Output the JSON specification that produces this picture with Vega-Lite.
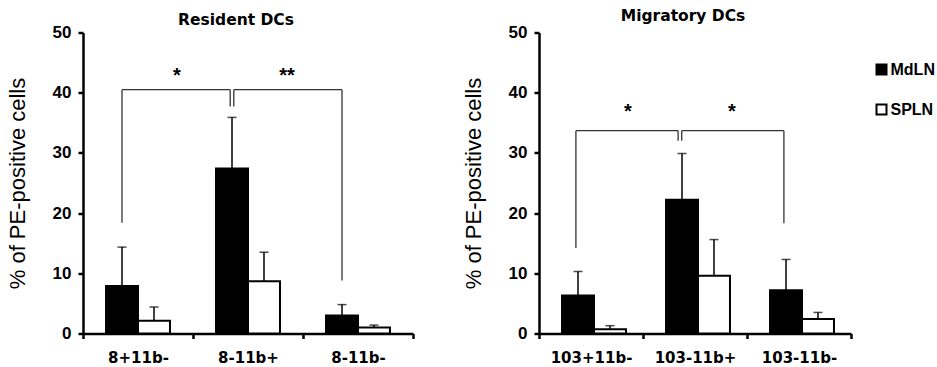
{
  "$schema": "https://vega.github.io/schema/vega-lite/v6.json",
  "background": "white",
  "padding": {"left": 6, "top": 8.5, "right": 0, "bottom": 0},
  "spacing": 47,
  "resolve": {"scale": {"fill": "independent"}, "legend": {"fill": "independent"}},
  "datasets": {
    "res": [
      {"cell": "8+11b-", "series": "MdLN", "mean": 7.9, "upper": 14.35},
      {"cell": "8+11b-", "series": "SPLN", "mean": 2.1, "upper": 4.4},
      {"cell": "8-11b+", "series": "MdLN", "mean": 27.4, "upper": 35.9},
      {"cell": "8-11b+", "series": "SPLN", "mean": 8.7, "upper": 13.5},
      {"cell": "8-11b-", "series": "MdLN", "mean": 3.0, "upper": 4.8},
      {"cell": "8-11b-", "series": "SPLN", "mean": 1.0, "upper": 1.4}
    ],
    "mig": [
      {"cell": "103+11b-", "series": "MdLN", "mean": 6.3, "upper": 10.3},
      {"cell": "103+11b-", "series": "SPLN", "mean": 0.7, "upper": 1.3},
      {"cell": "103-11b+", "series": "MdLN", "mean": 22.2, "upper": 29.9},
      {"cell": "103-11b+", "series": "SPLN", "mean": 9.6, "upper": 15.6},
      {"cell": "103-11b-", "series": "MdLN", "mean": 7.2, "upper": 12.3},
      {"cell": "103-11b-", "series": "SPLN", "mean": 2.4, "upper": 3.5}
    ],
    "resSig": [
      {"part": "leg", "cell": "8+11b-", "low": 18.4, "high": 40.5},
      {"part": "leg", "cell": "8-11b-", "low": 8.8, "high": 40.5},
      {"part": "midL", "cell": "8-11b+", "low": 37.7, "high": 40.5},
      {"part": "midR", "cell": "8-11b+", "low": 37.7, "high": 40.5},
      {"part": "spanL", "cell": "8+11b-", "cell2": "8-11b+", "high": 40.5},
      {"part": "spanR", "cell": "8-11b+", "cell2": "8-11b-", "high": 40.5},
      {"part": "star", "cell": "8+11b-", "label": "*", "high": 43.5},
      {"part": "star", "cell": "8-11b+", "label": "**", "high": 43.5}
    ],
    "migSig": [
      {"part": "leg", "cell": "103+11b-", "low": 14.2, "high": 33.7},
      {"part": "leg", "cell": "103-11b-", "low": 18.3, "high": 33.7},
      {"part": "midL", "cell": "103-11b+", "low": 32.0, "high": 33.7},
      {"part": "midR", "cell": "103-11b+", "low": 32.0, "high": 33.7},
      {"part": "spanL", "cell": "103+11b-", "cell2": "103-11b+", "high": 33.7},
      {"part": "spanR", "cell": "103-11b+", "cell2": "103-11b-", "high": 33.7},
      {"part": "star", "cell": "103+11b-", "label": "*", "high": 37.4},
      {"part": "star", "cell": "103-11b+", "label": "*", "high": 37.4}
    ]
  },
  "hconcat": [
    {
      "width": 330,
      "height": 301,
      "title": {"text": "Resident DCs", "offset": -4.5},
      "layer": [
        {
          "data": {"name": "res"},
          "mark": {"type": "bar", "stroke": "black", "strokeWidth": 2},
          "encoding": {
            "x": {"field": "cell", "type": "nominal", "title": null, "scale": {"domain": ["8+11b-", "8-11b+", "8-11b-"], "paddingInner": 0, "paddingOuter": 0}},
            "xOffset": {"field": "series", "type": "nominal", "scale": {"domain": ["MdLN", "SPLN"], "paddingInner": 0, "paddingOuter": 0.72}},
            "y": {"field": "mean", "type": "quantitative", "title": "% of PE-positive cells", "scale": {"domain": [0, 50]}, "axis": {"values": [0, 10, 20, 30, 40, 50]}},
            "fill": {"field": "series", "type": "nominal", "scale": {"domain": ["MdLN", "SPLN"], "range": ["black", "white"]}, "legend": null}
          }
        },
        {
          "data": {"name": "res"},
          "mark": {"type": "rule", "color": "black", "strokeWidth": 1.5},
          "encoding": {
            "x": {"field": "cell", "type": "nominal", "title": null},
            "xOffset": {"field": "series", "type": "nominal"},
            "y": {"field": "mean", "type": "quantitative", "title": "% of PE-positive cells"},
            "y2": {"field": "upper"}
          }
        },
        {
          "data": {"name": "res"},
          "mark": {"type": "tick", "color": "black", "size": 9, "thickness": 1.5, "orient": "horizontal"},
          "encoding": {
            "x": {"field": "cell", "type": "nominal", "title": null},
            "xOffset": {"field": "series", "type": "nominal"},
            "y": {"field": "upper", "type": "quantitative", "title": "% of PE-positive cells"}
          }
        },
        {
          "data": {"name": "resSig"},
          "transform": [{"filter": "datum.part === 'leg'"}],
          "mark": {"type": "rule", "color": "#333", "strokeWidth": 1.3, "xOffset": -16},
          "encoding": {
            "x": {"field": "cell", "type": "nominal", "title": null},
            "y": {"field": "low", "type": "quantitative", "title": "% of PE-positive cells"},
            "y2": {"field": "high"}
          }
        },
        {
          "data": {"name": "resSig"},
          "transform": [{"filter": "datum.part === 'midL'"}],
          "mark": {"type": "rule", "color": "#333", "strokeWidth": 1.3, "xOffset": -17.8},
          "encoding": {
            "x": {"field": "cell", "type": "nominal", "title": null},
            "y": {"field": "low", "type": "quantitative", "title": "% of PE-positive cells"},
            "y2": {"field": "high"}
          }
        },
        {
          "data": {"name": "resSig"},
          "transform": [{"filter": "datum.part === 'midR'"}],
          "mark": {"type": "rule", "color": "#333", "strokeWidth": 1.3, "xOffset": -14.2},
          "encoding": {
            "x": {"field": "cell", "type": "nominal", "title": null},
            "y": {"field": "low", "type": "quantitative", "title": "% of PE-positive cells"},
            "y2": {"field": "high"}
          }
        },
        {
          "data": {"name": "resSig"},
          "transform": [{"filter": "datum.part === 'spanL'"}],
          "mark": {"type": "rule", "color": "#333", "strokeWidth": 1.3, "xOffset": -16, "x2Offset": -17.8},
          "encoding": {
            "x": {"field": "cell", "type": "nominal", "title": null},
            "x2": {"field": "cell2"},
            "y": {"field": "high", "type": "quantitative", "title": "% of PE-positive cells"}
          }
        },
        {
          "data": {"name": "resSig"},
          "transform": [{"filter": "datum.part === 'spanR'"}],
          "mark": {"type": "rule", "color": "#333", "strokeWidth": 1.3, "xOffset": -14.2, "x2Offset": -16},
          "encoding": {
            "x": {"field": "cell", "type": "nominal", "title": null},
            "x2": {"field": "cell2"},
            "y": {"field": "high", "type": "quantitative", "title": "% of PE-positive cells"}
          }
        },
        {
          "data": {"name": "resSig"},
          "transform": [{"filter": "datum.part === 'star'"}],
          "mark": {"type": "text", "font": "Liberation Sans", "fontSize": 20, "fontWeight": "bold", "color": "black", "baseline": "middle", "align": "center", "xOffset": 39, "dy": 4},
          "encoding": {
            "x": {"field": "cell", "type": "nominal", "title": null},
            "y": {"field": "high", "type": "quantitative", "title": "% of PE-positive cells"},
            "text": {"field": "label"}
          }
        }
      ]
    },
    {
      "width": 312,
      "height": 301,
      "title": {"text": "Migratory DCs", "offset": -1},
      "layer": [
        {
          "data": {"name": "mig"},
          "mark": {"type": "bar", "stroke": "black", "strokeWidth": 2},
          "encoding": {
            "x": {"field": "cell", "type": "nominal", "title": null, "scale": {"domain": ["103+11b-", "103-11b+", "103-11b-"], "paddingInner": 0, "paddingOuter": 0}},
            "xOffset": {"field": "series", "type": "nominal", "scale": {"domain": ["MdLN", "SPLN"], "paddingInner": 0, "paddingOuter": 0.72}},
            "y": {"field": "mean", "type": "quantitative", "title": "% of PE-positive cells", "scale": {"domain": [0, 50]}, "axis": {"values": [0, 10, 20, 30, 40, 50]}},
            "fill": {"field": "series", "type": "nominal", "scale": {"domain": ["MdLN", "SPLN"], "range": ["black", "white"]}, "legend": {"orient": "none", "legendX": 334.5, "legendY": 29, "title": null}}
          }
        },
        {
          "data": {"name": "mig"},
          "mark": {"type": "rule", "color": "black", "strokeWidth": 1.5},
          "encoding": {
            "x": {"field": "cell", "type": "nominal", "title": null},
            "xOffset": {"field": "series", "type": "nominal"},
            "y": {"field": "mean", "type": "quantitative", "title": "% of PE-positive cells"},
            "y2": {"field": "upper"}
          }
        },
        {
          "data": {"name": "mig"},
          "mark": {"type": "tick", "color": "black", "size": 9, "thickness": 1.5, "orient": "horizontal"},
          "encoding": {
            "x": {"field": "cell", "type": "nominal", "title": null},
            "xOffset": {"field": "series", "type": "nominal"},
            "y": {"field": "upper", "type": "quantitative", "title": "% of PE-positive cells"}
          }
        },
        {
          "data": {"name": "migSig"},
          "transform": [{"filter": "datum.part === 'leg'"}],
          "mark": {"type": "rule", "color": "#333", "strokeWidth": 1.3, "xOffset": -15.1},
          "encoding": {
            "x": {"field": "cell", "type": "nominal", "title": null},
            "y": {"field": "low", "type": "quantitative", "title": "% of PE-positive cells"},
            "y2": {"field": "high"}
          }
        },
        {
          "data": {"name": "migSig"},
          "transform": [{"filter": "datum.part === 'midL'"}],
          "mark": {"type": "rule", "color": "#333", "strokeWidth": 1.3, "xOffset": -16.9},
          "encoding": {
            "x": {"field": "cell", "type": "nominal", "title": null},
            "y": {"field": "low", "type": "quantitative", "title": "% of PE-positive cells"},
            "y2": {"field": "high"}
          }
        },
        {
          "data": {"name": "migSig"},
          "transform": [{"filter": "datum.part === 'midR'"}],
          "mark": {"type": "rule", "color": "#333", "strokeWidth": 1.3, "xOffset": -13.3},
          "encoding": {
            "x": {"field": "cell", "type": "nominal", "title": null},
            "y": {"field": "low", "type": "quantitative", "title": "% of PE-positive cells"},
            "y2": {"field": "high"}
          }
        },
        {
          "data": {"name": "migSig"},
          "transform": [{"filter": "datum.part === 'spanL'"}],
          "mark": {"type": "rule", "color": "#333", "strokeWidth": 1.3, "xOffset": -15.1, "x2Offset": -16.9},
          "encoding": {
            "x": {"field": "cell", "type": "nominal", "title": null},
            "x2": {"field": "cell2"},
            "y": {"field": "high", "type": "quantitative", "title": "% of PE-positive cells"}
          }
        },
        {
          "data": {"name": "migSig"},
          "transform": [{"filter": "datum.part === 'spanR'"}],
          "mark": {"type": "rule", "color": "#333", "strokeWidth": 1.3, "xOffset": -13.3, "x2Offset": -15.1},
          "encoding": {
            "x": {"field": "cell", "type": "nominal", "title": null},
            "x2": {"field": "cell2"},
            "y": {"field": "high", "type": "quantitative", "title": "% of PE-positive cells"}
          }
        },
        {
          "data": {"name": "migSig"},
          "transform": [{"filter": "datum.part === 'star'"}],
          "mark": {"type": "text", "font": "Liberation Sans", "fontSize": 20, "fontWeight": "bold", "color": "black", "baseline": "middle", "align": "center", "xOffset": 36.9, "dy": 4},
          "encoding": {
            "x": {"field": "cell", "type": "nominal", "title": null},
            "y": {"field": "high", "type": "quantitative", "title": "% of PE-positive cells"},
            "text": {"field": "label"}
          }
        }
      ]
    }
  ],
  "config": {
    "view": {"stroke": null},
    "axis": {"grid": false, "domainColor": "black", "tickColor": "black", "labelColor": "black", "titleColor": "black"},
    "axisX": {"domainWidth": 2.5, "tickWidth": 2.5, "tickSize": 5, "tickBand": "extent", "labelFont": "DejaVu Sans", "labelFontSize": 15, "labelFontWeight": "bold", "labelPadding": 12, "labelAngle": 0},
    "axisY": {"domainWidth": 2.5, "tickWidth": 2.5, "tickSize": 5, "labelFont": "Liberation Sans", "labelFontSize": 17, "labelFontWeight": "bold", "labelPadding": 7, "titleFont": "Liberation Sans", "titleFontSize": 22, "titleFontWeight": "normal", "titlePadding": 23},
    "title": {"font": "DejaVu Sans", "fontSize": 15.5, "fontWeight": "bold", "color": "black", "anchor": "middle", "dx": -12},
    "legend": {"symbolType": "square", "symbolSize": 100, "symbolStrokeColor": "black", "symbolStrokeWidth": 2, "labelFont": "Liberation Sans", "labelFontWeight": "bold", "labelFontSize": 16, "labelColor": "black", "rowPadding": 22, "labelOffset": 1, "padding": 0}
  }
}
